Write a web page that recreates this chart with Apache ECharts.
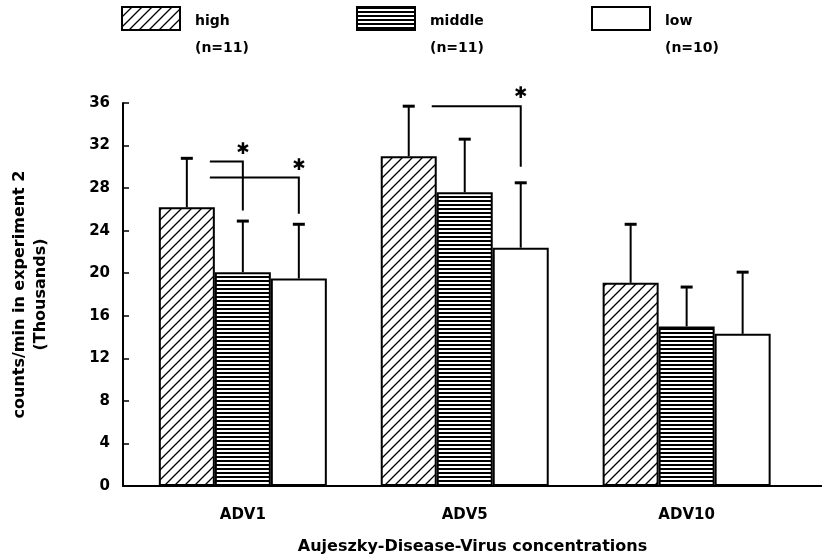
<!DOCTYPE html>
<html>
<head>
<meta charset="utf-8">
<script src="https://cdn.jsdelivr.net/npm/echarts@6/dist/echarts.min.js"></script>
<style>
  html, body { margin: 0; padding: 0; background: #fff; }
  #chart { width: 822px; height: 560px; }
</style>
</head>
<body>
<div id="chart"></div>
<script>
// Virus concentrations and the three groups
const categories = ['ADV1', 'ADV5', 'ADV10'];
const seriesNames = ['high', 'middle', 'low'];
const legendNotes = ['(n=11)', '(n=11)', '(n=10)'];

// Mean counts/min (thousands) and the top of each error bar
const highMean = [26.2, 31.0, 19.1];
const highErr = [30.8, 35.7, 24.6];
const middleMean = [20.1, 27.6, 15.0];
const middleErr = [24.9, 32.6, 18.7];
const lowMean = [19.5, 22.4, 14.3];
const lowErr = [24.6, 28.5, 20.1];

// Y axis ticks
const yMin = 0, yMax = 36, yStep = 4;

// Significance brackets: [category, from group, to group, bracket level, drop end]
const brackets = [
  [0, 0, 1, 30.5, 25.9],
  [0, 0, 2, 29.0, 25.6],
  [1, 0, 2, 35.7, 30.0]
];

const WIDE = 'DejaVu Sans';
const BAR_W = 56;

// Fill patterns: diagonal hatch for "high", horizontal stripes for "middle"
function hatchPattern() {
  const s = 10;
  const c = document.createElement('canvas');
  c.width = s; c.height = s;
  const g = c.getContext('2d');
  g.fillStyle = '#fff'; g.fillRect(0, 0, s, s);
  g.strokeStyle = '#000'; g.lineWidth = 1.3;
  g.beginPath();
  g.moveTo(0, s); g.lineTo(s, 0);
  g.moveTo(-s / 2, s / 2); g.lineTo(s / 2, -s / 2);
  g.moveTo(s / 2, s * 1.5); g.lineTo(s * 1.5, s / 2);
  g.stroke();
  return c;
}
function stripePattern() {
  const c = document.createElement('canvas');
  c.width = 4; c.height = 4;
  const g = c.getContext('2d');
  g.fillStyle = '#fff'; g.fillRect(0, 0, 4, 4);
  g.fillStyle = '#000'; g.fillRect(0, 0, 4, 2);
  return c;
}

const fills = [
  { image: hatchPattern(), repeat: 'repeat' },
  { image: stripePattern(), repeat: 'repeat' },
  '#fff'
];
const means = [highMean, middleMean, lowMean];
const errs = [highErr, middleErr, lowErr];

const barSeries = seriesNames.map((name, k) => ({
  name: name,
  type: 'bar',
  barWidth: BAR_W,
  barGap: '0%',
  z: 2,
  itemStyle: { color: fills[k], borderColor: '#000', borderWidth: 2 },
  data: categories.map((c, i) => [i, means[k][i]])
}));

// Upward error bars with caps, one custom series per group
const errorSeries = seriesNames.map((name, k) => ({
  type: 'custom',
  z: 5,
  clip: false,
  encode: { x: 0, y: [1, 2] },
  data: categories.map((c, i) => [i, means[k][i], errs[k][i]]),
  renderItem: function (params, api) {
    const x = api.value(0);
    const base = api.coord([x, api.value(1)]);
    const top = api.coord([x, api.value(2)]);
    const cx = base[0] + (k - 1) * BAR_W;
    return {
      type: 'group',
      children: [
        { type: 'line', shape: { x1: cx, y1: base[1], x2: cx, y2: top[1] },
          style: { stroke: '#000', lineWidth: 2 } },
        { type: 'line', shape: { x1: cx - 6, y1: top[1], x2: cx + 6, y2: top[1] },
          style: { stroke: '#000', lineWidth: 3 } }
      ]
    };
  }
}));

// Brackets with asterisks marking significant differences
const bracketSeries = {
  type: 'custom',
  z: 6,
  clip: false,
  encode: { x: 0, y: 3 },
  data: brackets,
  renderItem: function (params, api) {
    const cat = api.value(0);
    const from = api.value(1);
    const to = api.value(2);
    const lvl = api.coord([cat, api.value(3)]);
    const drop = api.coord([cat, api.value(4)]);
    const xStart = lvl[0] + (from - 1) * BAR_W + 23;
    const xEnd = lvl[0] + (to - 1) * BAR_W;
    return {
      type: 'group',
      children: [
        { type: 'polyline',
          shape: { points: [[xStart, lvl[1]], [xEnd, lvl[1]], [xEnd, drop[1]]] },
          style: { stroke: '#000', lineWidth: 2, fill: null } },
        { type: 'text', x: xEnd, y: lvl[1] - 12,
          style: { text: '\u2731', fill: '#000', font: 'bold 16px "' + WIDE + '"',
                   align: 'center', verticalAlign: 'middle' } }
      ]
    };
  }
};

// Legend: swatch, group name beside it, group size on the row below
const legendLeft = [121, 356, 591];
const legendText = {
  fontFamily: WIDE, fontWeight: 'bold', fontSize: 14, color: '#000', lineHeight: 18
};
const legendSwatches = seriesNames.map((name, i) => ({
  data: [name],
  left: legendLeft[i],
  top: 6,
  padding: 0,
  icon: 'rect',
  itemWidth: 58,
  itemHeight: 23,
  selectedMode: false,
  itemStyle: { borderColor: '#000', borderWidth: 2 },
  formatter: () => '',
  textStyle: legendText
}));
function textOnlyLegend(name, i, top, text) {
  return {
    data: [name],
    left: legendLeft[i] + 58 + 16 - 6,
    top: top,
    padding: 0,
    icon: 'rect',
    itemWidth: 1,
    itemHeight: 18,
    selectedMode: false,
    itemStyle: { opacity: 0, borderWidth: 0 },
    formatter: () => text,
    textStyle: legendText
  };
}
const legendNames = seriesNames.map((name, i) => textOnlyLegend(name, i, 12, name));
const legendSizes = seriesNames.map((name, i) => textOnlyLegend(name, i, 39, legendNotes[i]));

const chart = echarts.init(document.getElementById('chart'), null, { renderer: 'canvas' });
chart.setOption({
  animation: false,
  backgroundColor: '#fff',
  legend: legendSwatches.concat(legendNames, legendSizes),
  grid: { left: 123, right: 0, top: 103, bottom: 73, containLabel: false },
  xAxis: {
    type: 'value',
    min: -0.54,
    max: 2.61,
    splitLine: { show: false },
    axisTick: { show: false },
    axisLine: { show: true, onZero: false, lineStyle: { color: '#000', width: 2 } },
    axisLabel: {
      customValues: [0, 1, 2],
      formatter: v => categories[Math.round(v)] || '',
      margin: 22,
      fontFamily: WIDE, fontWeight: 'bold', fontSize: 15, color: '#000'
    },
    name: 'Aujeszky-Disease-Virus concentrations',
    nameLocation: 'middle',
    nameGap: 53,
    nameTextStyle: { fontFamily: WIDE, fontWeight: 'bold', fontSize: 16, color: '#000' }
  },
  yAxis: {
    type: 'value',
    min: yMin,
    max: yMax,
    interval: yStep,
    splitLine: { show: false },
    axisLine: { show: true, onZero: false, lineStyle: { color: '#000', width: 2 } },
    axisTick: { show: true, inside: true, length: 6, lineStyle: { color: '#000', width: 1.5 } },
    axisLabel: { margin: 13, fontFamily: WIDE, fontWeight: 'bold', fontSize: 15, color: '#000' },
    name: 'counts/min in experiment 2\n(Thousands)',
    nameLocation: 'middle',
    nameGap: 72,
    nameTextStyle: { fontFamily: WIDE, fontWeight: 'bold', fontSize: 16, color: '#000', lineHeight: 21 }
  },
  series: barSeries.concat(errorSeries, [bracketSeries])
});
</script>
</body>
</html>
